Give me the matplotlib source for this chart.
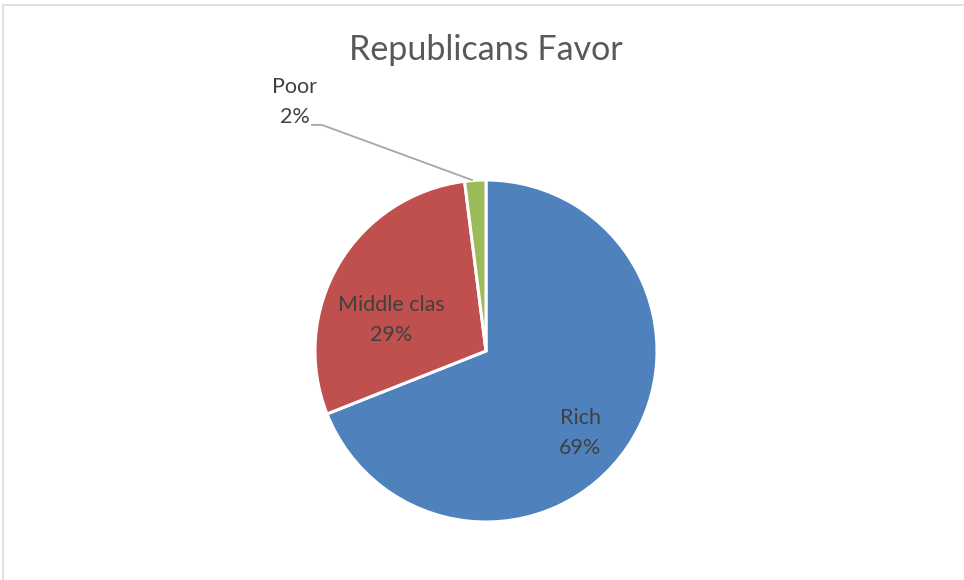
import matplotlib
matplotlib.use("Agg")
import matplotlib.pyplot as plt
from matplotlib.patches import Rectangle

categories = ["Rich", "Middle clas", "Poor"]
values = [69, 29, 2]
colors = ["#4F81BD", "#C0504D", "#9BBB59"]
title = "Republicans Favor"

plt.rcParams['font.family'] = ['Lato', 'DejaVu Sans']

W, H = 964, 580
fig = plt.figure(figsize=(W / 100, H / 100), dpi=100)

# outer chart border (Excel-like)
fig.patches.append(Rectangle((3 / W, -0.05), 1.1, (H - 5) / H + 0.05, transform=fig.transFigure,
                             fill=False, edgecolor="#D9D9D9", linewidth=1.2))

cx, cy, r = 486, 351, 171
ax = fig.add_axes([(cx - r) / W, (H - cy - r) / H, 2 * r / W, 2 * r / H])

wedges, _ = ax.pie(values, colors=colors, startangle=90, counterclock=False, radius=1,
                   wedgeprops=dict(edgecolor="white", linewidth=2.2))
ax.set_xlim(-1, 1)
ax.set_ylim(-1, 1)
ax.set_aspect("equal")
ax.axis("off")

total = sum(values)
pct = [f"{round(v / total * 100)}%" for v in values]
txtc = "#404040"
fs = 15.5
ls = 1.6
ax.text(0.55, -0.48, f"{categories[0]}\n{pct[0]}", ha="center", va="center", color=txtc,
        fontsize=fs, linespacing=ls)
ax.text(-0.556, 0.18, f"{categories[1]}\n{pct[1]}", ha="center", va="center", color=txtc,
        fontsize=fs, linespacing=ls)
ax.text(-1.12, 1.456, f"{categories[2]}\n{pct[2]}", ha="center", va="center", color=txtc,
        fontsize=fs, linespacing=ls, clip_on=False)
ax.plot([-1.018, -0.959, -0.082], [1.322, 1.322, 1.0], color="#A6A6A6", linewidth=1.3,
        clip_on=False)

fig.text(486 / W, 1 - 50 / H, title, ha="center", va="center", fontsize=24.5, color="#595959")

fig.savefig("out.png", dpi=100, facecolor="white")
